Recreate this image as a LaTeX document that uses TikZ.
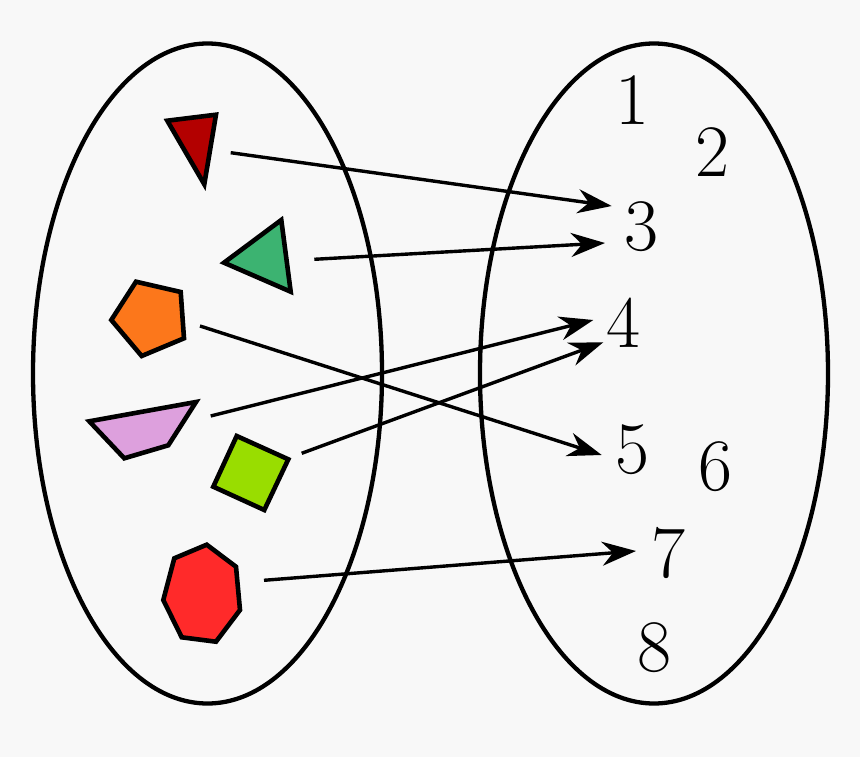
\documentclass[tikz,border=0pt]{standalone}
\usetikzlibrary{arrows.meta}
\definecolor{bg}{HTML}{F8F8F8}
\definecolor{cred}{HTML}{B30000}
\definecolor{cgreen}{HTML}{3CB371}
\definecolor{corange}{HTML}{FC771B}
\definecolor{cpink}{HTML}{DDA0DD}
\definecolor{clime}{HTML}{99DD00}
\definecolor{chept}{HTML}{FF2A2A}
\tikzset{
  setline/.style={line width=4.3pt},
  shapeline/.style={draw=black, line width=4.6pt, line join=miter},
  maparrow/.style={line width=3.4pt, -{Stealth[length=34pt,width=24pt,inset=11pt]}},
  numlabel/.style={inner sep=0pt, font=\fontsize{74}{80}\selectfont}
}
\begin{document}
\begin{tikzpicture}[x=1pt,y=-1pt]
\fill[bg] (0,0) rectangle (860,757);
\useasboundingbox (0,0) rectangle (860,757);
% sets
\draw[setline] (207.5,373.5) ellipse [x radius=174.5, y radius=330];
\draw[setline] (654,373.5) ellipse [x radius=174, y radius=330];
% shapes
\filldraw[shapeline, fill=cred] (167.3,120.7) -- (216,114.7) -- (204.3,184.3) -- cycle;
\filldraw[shapeline, fill=cgreen] (224,262.7) -- (281.3,220) -- (290.7,291.7) -- cycle;
\filldraw[shapeline, fill=corange] (136,281.7) -- (180.7,292) -- (184,338.3) -- (141.7,356) -- (111.3,320) -- cycle;
\filldraw[shapeline, fill=cpink] (89.3,421.3) -- (196,402) -- (168.3,445.3) -- (124.3,458.3) -- cycle;
\filldraw[shapeline, fill=clime] (236.7,436) -- (288.3,459.3) -- (264.3,510) -- (213.3,486.7) -- cycle;
\filldraw[shapeline, fill=chept] (206.7,544.7) -- (236,566.7) -- (240,610) -- (216,641.7) -- (181.7,637.3) -- (163.3,600) -- (174.3,558.3) -- cycle;
% labels
\node[numlabel] (n1) at (632,100) {1};
\node[numlabel] (n2) at (712,152) {2};
\node[numlabel] (n3) at (641,227) {3};
\node[numlabel] (n4) at (623,323) {4};
\node[numlabel] (n5) at (632,450) {5};
\node[numlabel] (n6) at (715,467) {6};
\node[numlabel] (n7) at (668,553) {7};
\node[numlabel] (n8) at (654,648) {8};
% arrow ends
\coordinate (s1) at (230.7,152.7);
\coordinate (e1) at (611.7,206);
\coordinate (s2) at (314.3,259.3);
\coordinate (e2) at (605,243);
\coordinate (s3) at (200,326);
\coordinate (e3) at (601.7,455);
\coordinate (s4) at (210.7,416);
\coordinate (e4) at (593.3,320);
\coordinate (s5) at (301.7,453.3);
\coordinate (e5) at (603.3,342.3);
\coordinate (s6) at (264,580.3);
\coordinate (e6) at (636,551);
\draw[maparrow] (s1) -- (e1);
\draw[maparrow] (s2) -- (e2);
\draw[maparrow] (s3) -- (e3);
\draw[maparrow] (s4) -- (e4);
\draw[maparrow] (s5) -- (e5);
\draw[maparrow] (s6) -- (e6);
\end{tikzpicture}
\end{document}
